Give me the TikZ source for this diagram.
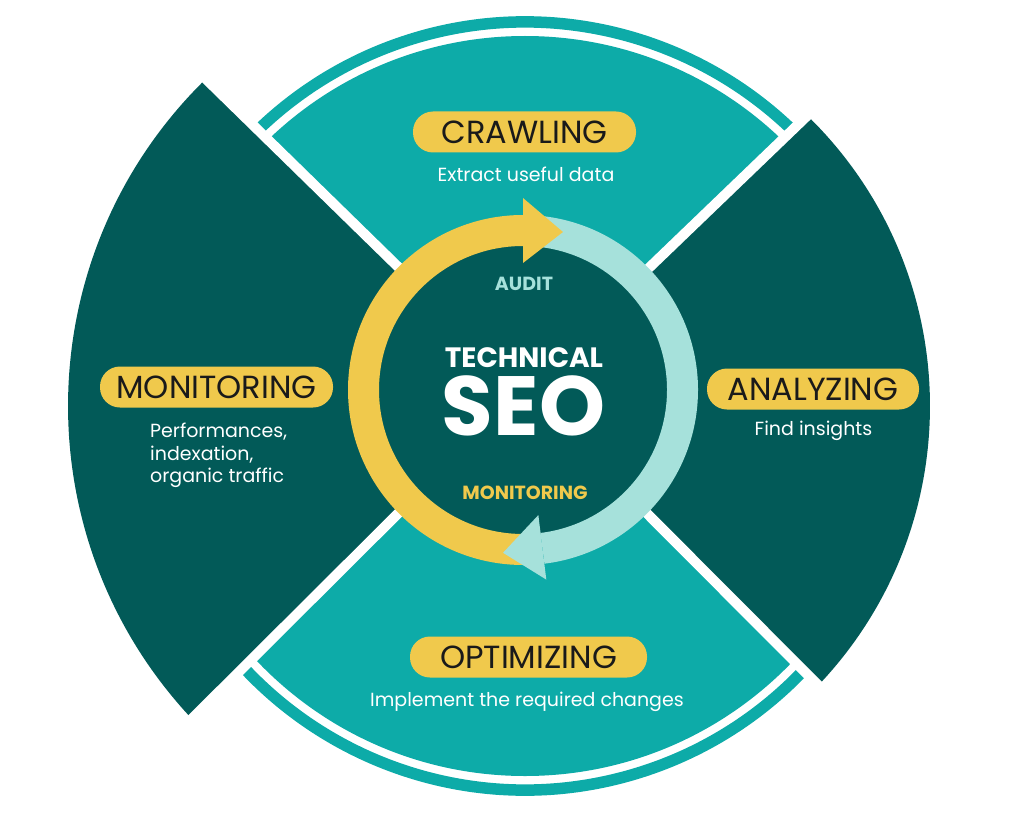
\documentclass[tikz,border=0pt]{standalone}
\usepackage{fontspec}
\setmainfont{Poppins}
\usetikzlibrary{calc}
\definecolor{tealmid}{RGB}{13,171,168}
\definecolor{tealdark}{RGB}{2,90,88}
\definecolor{seoyellow}{RGB}{240,201,76}
\definecolor{seolight}{RGB}{166,225,219}
\definecolor{pilltext}{RGB}{26,26,26}

\begin{document}
\begin{tikzpicture}[x=1pt,y=1pt,
        pill/.style={fill=seoyellow, rounded corners=20pt, minimum height=41pt, inner sep=0pt,
            text=pilltext, font=\fontsize{32}{32}\selectfont},
        desc/.style={text=white, anchor=base, font=\fontsize{19}{22.5}\selectfont},
        gapline/.style={white, line width=10pt},
        inner/.style={font=\bfseries\fontsize{19}{19}\selectfont}]
        \useasboundingbox (0,0) rectangle (1024,-813);

        \coordinate (O) at (525,-406);
        \coordinate (A) at (523,-389);
        \coordinate (R) at (523,-390);
        \coordinate (LT) at ($(O)+(134.3:457)$);
        \coordinate (LB) at ($(O)+(223.2:457)$);
        \coordinate (RT) at ($(O)+(45.8:405)$);
        \coordinate (RB) at ($(O)+(-43.6:405)$);

        \begin{scope}
            \clip (A) -- ($(A)!2!(LT)$) -- ($(A)!2!(RT)$) -- cycle;
            \fill[tealmid] (O) circle[radius=370];
            \draw[tealmid, line width=11.5pt] ($(O)+(20:384)$) arc[start angle=20, end angle=160, radius=384];
        \end{scope}
        \begin{scope}
            \clip (A) -- ($(A)!2!(LB)$) -- ($(A)!2!(RB)$) -- cycle;
            \fill[tealmid] (O) circle[radius=370];
            \draw[tealmid, line width=11.5pt] ($(O)+(200:384)$) arc[start angle=200, end angle=340, radius=384];
        \end{scope}

        \fill[tealdark] (A) -- (LT) arc[start angle=134.3, end angle=223.2, radius=457] -- cycle;
        \fill[tealdark] (A) -- (RB) arc[start angle=-43.6, end angle=45.8, radius=405] -- cycle;

        \foreach \c in {LT,LB,RT,RB}
            \draw[gapline] (A) -- ($(A)!1.15!(\c)$);

        \fill[tealdark] (R) circle[radius=145];
        \draw[seoyellow, line width=31pt] ($(R)+(90:159.5)$) arc[start angle=90, end angle=272, radius=159.5];
        \draw[seolight, line width=31pt] ($(R)+(86:159.5)$) arc[start angle=86, end angle=-83, radius=159.5];
        \fill[seoyellow] ($(R)+(90:127)$) -- ($(R)+(75.8:163)$) -- ($(R)+(90:192)$) -- cycle;
        \fill[seolight] ($(R)+(-83:126)$) -- ($(R)+(-97:164)$) -- ($(R)+(-83:191)$) -- cycle;

        \node[inner, text=seolight] (audit) at (524,-283.5) {AUDIT};
        \node[text=white, font=\bfseries\fontsize{28}{28}\selectfont] (technical) at (524,-357.5) {TECHNICAL};
        \node[text=white, font=\bfseries\fontsize{84}{84}\selectfont] (seo) at (523.5,-406) {SEO};
        \node[inner, text=seoyellow] (loop) at (525,-493) {MONITORING};

        \node[pill, minimum width=223pt] (crawl) at (524.5,-132) {CRAWLING};
        \node[desc] (crawldesc) at (526,-182) {Extract useful data};

        \node[pill, minimum width=212pt] (analyze) at (813,-389) {ANALYZING};
        \node[desc] (analyzedesc) at (813.5,-435) {Find insights};

        \node[pill, minimum width=233pt] (monitor) at (216.5,-387) {MONITORING};
        \node[desc, anchor=north west, align=left, inner sep=0pt] (monitordesc) at (150,-423) {Performances,\\indexation,\\organic traffic};

        \node[pill, minimum width=237pt] (optimize) at (528.5,-657) {OPTIMIZING};
        \node[desc] (optimizedesc) at (527,-706) {Implement the required changes};
    \end{tikzpicture}
\end{document}
